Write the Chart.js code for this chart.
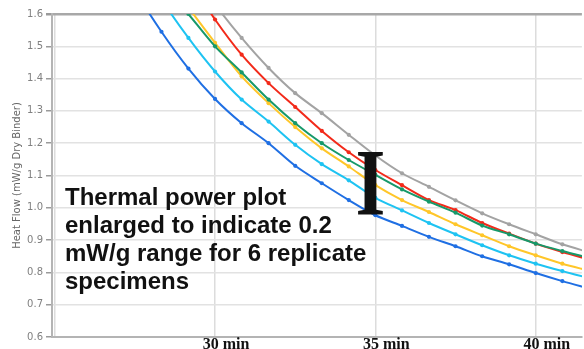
<!DOCTYPE html>
<html>
<head>
<meta charset="utf-8">
<script src="https://cdn.jsdelivr.net/npm/chart.js@4"></script>
<style>
  html, body { margin: 0; padding: 0; background: #fff; overflow: hidden; }
  canvas { display: block; }
</style>
</head>
<body>
<canvas id="chart" width="584" height="349"></canvas>
<script>
"use strict";

// time of each reading (min), one reading every 50 s
const times = [26.67, 27.5, 28.33, 29.17, 30, 30.83, 31.67, 32.5, 33.33, 34.17, 35,
               35.83, 36.67, 37.5, 38.33, 39.17, 40, 40.83, 41.67];

// heat flow (mW/g dry binder) for the 6 replicate specimens
const blueFlow   = [1.84, 1.675, 1.545, 1.431, 1.337, 1.262, 1.200, 1.130, 1.076, 1.024, 0.977,
                    0.944, 0.910, 0.881, 0.850, 0.825, 0.798, 0.773, 0.750];
const cyanFlow   = [1.93, 1.78, 1.645, 1.526, 1.422, 1.335, 1.267, 1.195, 1.135, 1.085, 1.031,
                    0.992, 0.953, 0.918, 0.884, 0.853, 0.827, 0.804, 0.782];
const yellowFlow = [1.98, 1.85, 1.73, 1.62, 1.511, 1.407, 1.324, 1.250, 1.184, 1.128, 1.070,
                    1.024, 0.987, 0.949, 0.915, 0.881, 0.853, 0.827, 0.805];
const greenFlow  = [1.97, 1.83, 1.70, 1.60, 1.500, 1.419, 1.335, 1.262, 1.200, 1.148, 1.102,
                    1.057, 1.019, 0.985, 0.945, 0.918, 0.889, 0.866, 0.845];
const redFlow    = [2.08, 1.94, 1.82, 1.71, 1.583, 1.474, 1.386, 1.312, 1.238, 1.172, 1.117,
                    1.070, 1.024, 0.993, 0.953, 0.920, 0.889, 0.863, 0.840];
const grayFlow   = [2.12, 1.99, 1.87, 1.75, 1.630, 1.526, 1.433, 1.355, 1.293, 1.226, 1.162,
                    1.107, 1.065, 1.023, 0.983, 0.949, 0.918, 0.887, 0.862];

const xTicks = [25, 30, 35, 40];
const note = ["Thermal power plot", "enlarged to indicate 0.2",
              "mW/g range for 6 replicate", "specimens"];

function series(values, color) {
    return {
        data: values.map((v, i) => ({ x: times[i], y: v })),
        borderColor: color,
        backgroundColor: color,
        borderWidth: 2,
        pointRadius: 2.1,
        pointBorderWidth: 0,
        pointHoverRadius: 2.1,
        tension: 0.3,
        fill: false
    };
}

// Big "I" range marker and the note text drawn on top of the plot
const notePlugin = {
    id: "note",
    afterDraw(chart) {
        const ctx = chart.ctx;
        ctx.save();
        ctx.fillStyle = "#111";
        ctx.textAlign = "left";
        ctx.textBaseline = "alphabetic";
        ctx.font = "bold 24px 'Liberation Sans', Arial, sans-serif";
        note.forEach((line, i) => ctx.fillText(line, 65, 204.5 + i * 28.3));
        ctx.font = "bold 96px 'Liberation Serif', 'Times New Roman', serif";
        ctx.textAlign = "center";
        ctx.save();
        ctx.translate(370.5, 215);
        ctx.scale(0.8, 1);
        ctx.fillText("I", 0, 0);
        ctx.restore();
        ctx.restore();
    }
};

new Chart(document.getElementById("chart").getContext("2d"), {
    type: "line",
    data: {
        datasets: [
            series(greenFlow, "#17996a"),
            series(yellowFlow, "#ffc629"),
            series(redFlow, "#f22a1a"),
            series(blueFlow, "#1f6fe3"),
            series(cyanFlow, "#1ec3f2"),
            series(grayFlow, "#a3a3a3")
        ]
    },
    options: {
        responsive: false,
        animation: false,
        layout: { padding: { top: 14, right: 0, left: 0, bottom: 0 } },
        plugins: {
            legend: { display: false },
            tooltip: { enabled: false }
        },
        scales: {
            x: {
                type: "linear",
                min: 24.916,
                max: 41.44,
                afterBuildTicks: s => { s.ticks = xTicks.map(v => ({ value: v })); },
                afterFit: s => { s.height = 12; s.paddingLeft = 0; s.paddingRight = 0; },
                border: { color: "#b4b4b4", width: 2 },
                grid: {
                    color: "#dcdcdc",
                    lineWidth: 1.5,
                    drawTicks: false
                },
                ticks: {
                    padding: -2,
                    labelOffset: 11,
                    color: "#111",
                    font: { family: "'Liberation Serif', 'Times New Roman', serif", size: 16, weight: "bold" },
                    callback: v => v === 25 ? "" : v + " min"
                }
            },
            y: {
                min: 0.6,
                max: 1.6,
                afterFit: s => { s.width = 52; },
                border: { color: "#b4b4b4", width: 2 },
                grid: {
                    color: c => c.tick && c.tick.value === 1.6 ? "#a8a8a8" : "#e2e2e2",
                    lineWidth: c => c.tick && c.tick.value === 1.6 ? 2.5 : 1.5,
                    tickColor: "#9a9a9a",
                    tickLength: 6
                },
                ticks: {
                    stepSize: 0.1,
                    padding: 3,
                    color: "#808080",
                    font: { family: "'DejaVu Sans', Verdana, sans-serif", size: 10 },
                    callback: v => v.toFixed(1)
                },
                title: {
                    display: true,
                    text: "Heat Flow (mW/g Dry Binder)",
                    color: "#666",
                    padding: { top: 11, bottom: 0 },
                    font: { family: "'DejaVu Sans', Verdana, sans-serif", size: 10 }
                }
            }
        }
    },
    plugins: [notePlugin]
});
</script>
</body>
</html>
